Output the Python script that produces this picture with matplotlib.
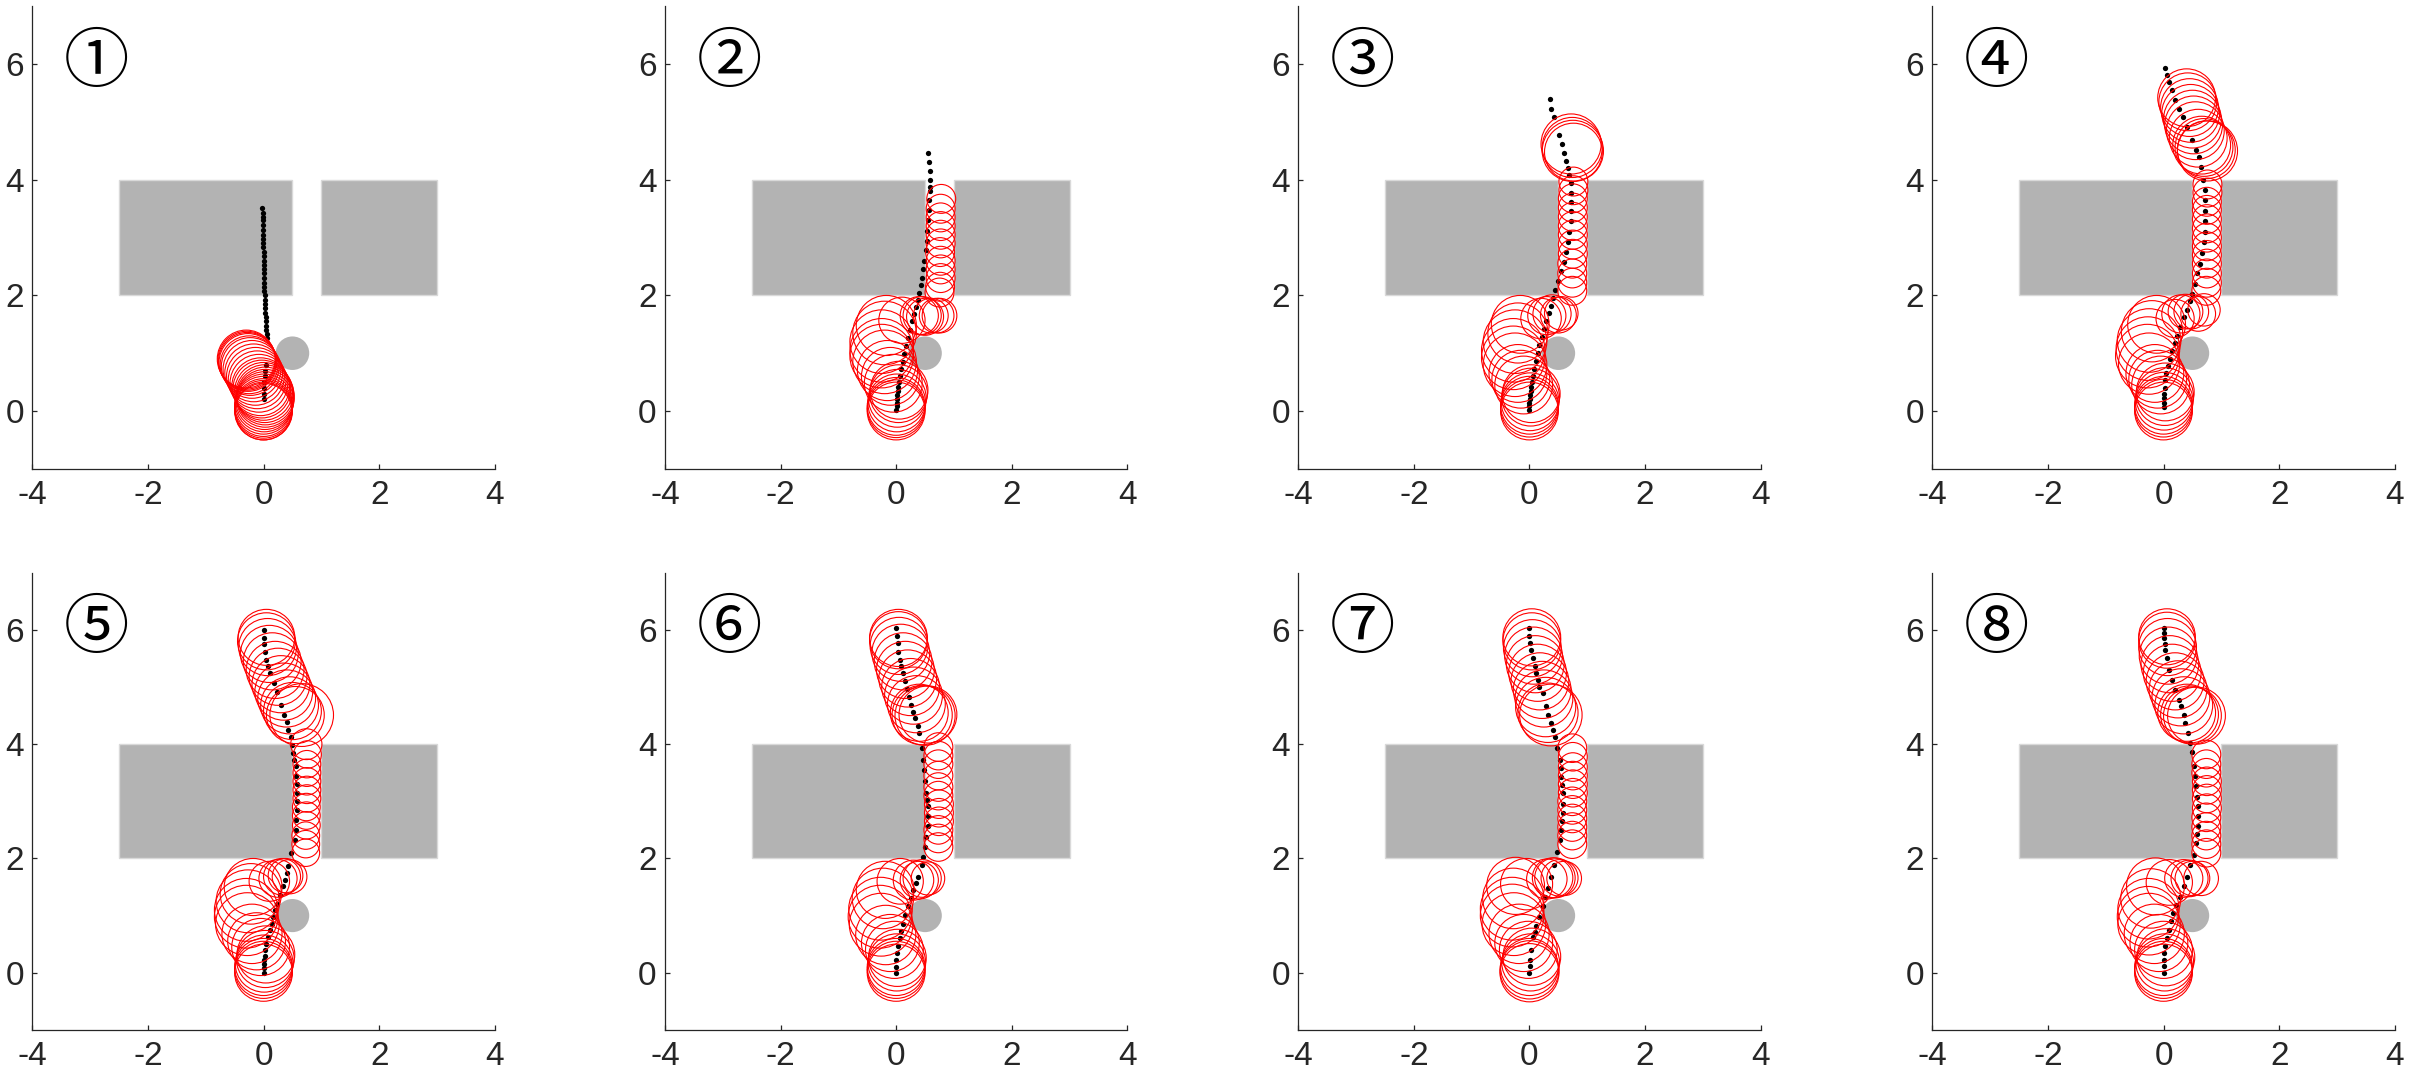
import matplotlib.pyplot as plt
from matplotlib.patches import Circle, Rectangle

plt.rcParams['font.family'] = ['Liberation Sans', 'DejaVu Sans']
plt.rcParams['axes.unicode_minus'] = False

# scene: two wall blocks with a gap, and a round pillar
walls = [(-2.5, 2.0, 3.0, 2.0), (1.0, 2.0, 2.0, 2.0)]   # x, y, w, h
pillar = (0.5, 1.0, 0.29)
panel_tags = ['①', '②', '③', '④', '⑤', '⑥', '⑦', '⑧']
x_ticks = [-4, -2, 0, 2, 4]
y_ticks = [0, 2, 4, 6]

# black dots = path, (x, y)
dots_1 = [(-0.02, 3.52), (-0.01, 3.42), (-0.01, 3.36), (-0.01, 3.30), (-0.01, 3.22), (-0.01, 3.13),
          (-0.01, 3.05), (-0.01, 2.98), (-0.01, 2.90), (-0.01, 2.83), (0.0, 2.75), (0.0, 2.68),
          (0.0, 2.60), (0.0, 2.52), (0.0, 2.45), (0.0, 2.38), (0.01, 2.30), (0.01, 2.22), (0.01, 2.15),
          (0.01, 2.08), (0.02, 2.00), (0.02, 1.92), (0.03, 1.85), (0.03, 1.78), (0.03, 1.70),
          (0.04, 1.62), (0.04, 1.55), (0.05, 1.47), (0.05, 1.40), (0.06, 1.33), (0.06, 1.26),
          (0.05, 0.80), (0.03, 0.70), (0.02, 0.60), (0.01, 0.50), (0.0, 0.40), (0.0, 0.30), (0.0, 0.20)]
dots_2 = [(0.0, 0.02), (0.01, 0.08), (0.01, 0.14), (0.02, 0.20), (0.02, 0.27), (0.03, 0.34), (0.04, 0.42),
          (0.05, 0.50), (0.07, 0.60), (0.09, 0.72), (0.11, 0.84), (0.14, 0.98), (0.17, 1.12), (0.20, 1.26),
          (0.24, 1.40), (0.28, 1.55), (0.31, 1.68), (0.34, 1.80), (0.37, 1.92), (0.40, 2.05), (0.43, 2.18),
          (0.45, 2.30), (0.47, 2.45), (0.49, 2.60), (0.51, 2.78), (0.53, 2.95), (0.54, 3.12), (0.55, 3.30),
          (0.56, 3.48), (0.57, 3.65), (0.58, 3.80), (0.59, 3.88), (0.59, 4.00), (0.58, 4.16), (0.57, 4.30),
          (0.55, 4.47)]
dots_3 = [(0.0, 0.02), (0.0, 0.08), (0.0, 0.14), (0.01, 0.20), (0.01, 0.27), (0.02, 0.34), (0.03, 0.42),
          (0.04, 0.50), (0.06, 0.60), (0.08, 0.72), (0.11, 0.86), (0.14, 1.00), (0.17, 1.14), (0.21, 1.28),
          (0.25, 1.42), (0.29, 1.56), (0.33, 1.70), (0.37, 1.82), (0.41, 1.96), (0.45, 2.10), (0.50, 2.25),
          (0.55, 2.42), (0.59, 2.58), (0.63, 2.75), (0.66, 2.92), (0.69, 3.10), (0.71, 3.28), (0.72, 3.46),
          (0.72, 3.62), (0.72, 3.78), (0.71, 3.94), (0.69, 4.08), (0.66, 4.20), (0.64, 4.33), (0.60, 4.47),
          (0.56, 4.62), (0.51, 4.77), (0.43, 5.08), (0.38, 5.23), (0.35, 5.39)]
dots_4 = [(0.0, 0.07), (0.0, 0.14), (0.01, 0.22), (0.01, 0.30), (0.02, 0.40), (0.03, 0.54), (0.05, 0.66),
          (0.08, 0.78), (0.12, 0.90), (0.15, 1.04), (0.19, 1.18), (0.23, 1.30), (0.28, 1.45), (0.35, 1.63),
          (0.40, 1.75), (0.45, 1.90), (0.49, 2.03), (0.54, 2.20), (0.58, 2.38), (0.63, 2.55), (0.66, 2.74),
          (0.70, 2.93), (0.71, 3.10), (0.72, 3.28), (0.72, 3.46), (0.72, 3.65), (0.71, 3.82), (0.69, 4.00),
          (0.65, 4.22), (0.61, 4.39), (0.57, 4.51), (0.49, 4.69), (0.40, 4.92), (0.33, 5.09), (0.26, 5.23),
          (0.20, 5.38), (0.14, 5.55), (0.09, 5.70), (0.06, 5.82), (0.03, 5.94)]
dots_5 = [(0.0, 0.0), (0.0, 0.08), (0.01, 0.15), (0.01, 0.22), (0.02, 0.30), (0.03, 0.40), (0.05, 0.51),
          (0.08, 0.63), (0.11, 0.75), (0.14, 0.86), (0.17, 0.98), (0.20, 1.10), (0.24, 1.21), (0.28, 1.36),
          (0.33, 1.51), (0.37, 1.63), (0.40, 1.74), (0.43, 1.86), (0.48, 2.09), (0.54, 2.32), (0.56, 2.50),
          (0.57, 2.67), (0.58, 2.85), (0.58, 3.00), (0.58, 3.14), (0.58, 3.30), (0.57, 3.45), (0.56, 3.61),
          (0.53, 3.73), (0.51, 3.84), (0.50, 3.99), (0.47, 4.13), (0.43, 4.25), (0.40, 4.38), (0.35, 4.51),
          (0.31, 4.69), (0.24, 4.92), (0.18, 5.07), (0.12, 5.24), (0.08, 5.36), (0.05, 5.48), (0.03, 5.62),
          (0.01, 5.75), (0.01, 5.86), (0.0, 6.00)]
dots_6 = [(0.0, 0.0), (0.0, 0.10), (0.0, 0.22), (0.01, 0.34), (0.03, 0.46), (0.06, 0.60), (0.09, 0.73),
          (0.12, 0.86), (0.16, 1.01), (0.20, 1.16), (0.25, 1.30), (0.29, 1.45), (0.34, 1.57), (0.38, 1.68),
          (0.44, 1.89), (0.47, 2.03), (0.50, 2.20), (0.52, 2.38), (0.55, 2.56), (0.55, 2.74), (0.55, 2.91),
          (0.53, 3.02), (0.52, 3.14), (0.50, 3.35), (0.48, 3.55), (0.46, 3.72), (0.44, 3.93), (0.40, 4.19),
          (0.38, 4.31), (0.33, 4.45), (0.30, 4.57), (0.26, 4.69), (0.22, 4.83), (0.19, 4.96), (0.16, 5.10),
          (0.12, 5.24), (0.09, 5.36), (0.06, 5.48), (0.04, 5.62), (0.03, 5.77), (0.01, 5.90), (0.0, 6.03)]
dots_7 = [(0.0, 0.0), (0.01, 0.11), (0.01, 0.22), (0.03, 0.40), (0.06, 0.63), (0.09, 0.72), (0.12, 0.81),
          (0.17, 0.98), (0.23, 1.16), (0.27, 1.32), (0.32, 1.48), (0.38, 1.68), (0.43, 1.89), (0.48, 2.12),
          (0.52, 2.32), (0.55, 2.50), (0.57, 2.65), (0.58, 2.79), (0.58, 2.96), (0.58, 3.14), (0.57, 3.28),
          (0.55, 3.43), (0.54, 3.58), (0.52, 3.72), (0.48, 3.93), (0.45, 4.13), (0.40, 4.25), (0.38, 4.37),
          (0.32, 4.51), (0.28, 4.66), (0.23, 4.89), (0.17, 5.00), (0.14, 5.12), (0.12, 5.24), (0.09, 5.37),
          (0.06, 5.50), (0.03, 5.65), (0.01, 5.77), (0.0, 5.90), (0.0, 6.03)]
dots_8 = [(0.0, 0.0), (0.0, 0.11), (0.0, 0.22), (0.01, 0.34), (0.03, 0.46), (0.06, 0.61), (0.09, 0.75),
          (0.13, 0.90), (0.17, 1.04), (0.22, 1.18), (0.28, 1.33), (0.35, 1.51), (0.40, 1.68), (0.46, 1.89),
          (0.52, 2.06), (0.57, 2.27), (0.58, 2.42), (0.59, 2.56), (0.59, 2.74), (0.59, 2.91), (0.58, 3.08),
          (0.57, 3.26), (0.55, 3.44), (0.52, 3.61), (0.49, 3.87), (0.46, 4.02), (0.42, 4.19), (0.38, 4.37),
          (0.35, 4.51), (0.31, 4.66), (0.26, 4.78), (0.20, 4.95), (0.14, 5.13), (0.09, 5.30), (0.06, 5.50),
          (0.03, 5.65), (0.02, 5.76), (0.01, 5.86), (0.0, 5.95), (0.0, 6.03)]

# red rings, (x, y, r)
rings_1 = [(-0.30, 0.90, 0.50), (-0.29, 0.88, 0.50), (-0.28, 0.86, 0.50), (-0.27, 0.84, 0.50),
           (-0.25, 0.80, 0.50), (-0.23, 0.77, 0.50), (-0.20, 0.72, 0.50), (-0.17, 0.66, 0.50),
           (-0.14, 0.60, 0.50), (-0.11, 0.54, 0.50), (-0.08, 0.48, 0.50), (-0.05, 0.42, 0.50),
           (-0.03, 0.38, 0.50), (0.0, 0.34, 0.50), (0.02, 0.30, 0.50), (0.03, 0.26, 0.50),
           (0.03, 0.22, 0.50), (0.02, 0.18, 0.50), (0.01, 0.14, 0.50), (0.0, 0.10, 0.50),
           (0.0, 0.06, 0.50), (0.0, 0.03, 0.50), (0.0, 0.0, 0.50), (0.0, -0.01, 0.49)]
rings_2 = [(0.0, 0.0, 0.5), (0.0, 0.04, 0.5), (0.0, 0.08, 0.5), (0.01, 0.14, 0.5), (0.02, 0.22, 0.5),
           (0.04, 0.30, 0.5), (0.05, 0.36, 0.5), (-0.05, 0.48, 0.5), (-0.10, 0.60, 0.5),
           (-0.15, 0.70, 0.52), (-0.20, 0.85, 0.55), (-0.25, 0.95, 0.55), (-0.25, 1.05, 0.55),
           (-0.25, 1.20, 0.55), (-0.20, 1.35, 0.55), (-0.17, 1.48, 0.52), (0.10, 1.57, 0.40),
           (0.40, 1.65, 0.33), (0.45, 1.65, 0.33), (0.50, 1.63, 0.32), (0.60, 1.65, 0.30),
           (0.70, 1.65, 0.30), (0.75, 1.65, 0.30), (0.75, 2.05, 0.25), (0.76, 2.15, 0.25),
           (0.77, 2.30, 0.25), (0.77, 2.45, 0.25), (0.77, 2.60, 0.25), (0.76, 2.75, 0.25),
           (0.77, 2.90, 0.25), (0.77, 3.05, 0.25), (0.77, 3.20, 0.25), (0.77, 3.35, 0.25),
           (0.77, 3.50, 0.25), (0.78, 3.67, 0.25)]
rings_3 = [(0.0, 0.0, 0.5), (0.0, 0.05, 0.5), (0.0, 0.10, 0.5), (0.01, 0.16, 0.5), (0.02, 0.24, 0.5),
           (0.03, 0.30, 0.5), (-0.10, 0.45, 0.5), (-0.15, 0.55, 0.5), (-0.20, 0.65, 0.5),
           (-0.25, 0.80, 0.55), (-0.28, 0.92, 0.55), (-0.28, 1.05, 0.55), (-0.25, 1.20, 0.55),
           (-0.20, 1.35, 0.52), (-0.16, 1.50, 0.50), (0.20, 1.60, 0.35), (0.30, 1.65, 0.33),
           (0.39, 1.68, 0.33), (0.50, 1.66, 0.31), (0.55, 1.69, 0.29), (0.74, 2.08, 0.25),
           (0.74, 2.22, 0.25), (0.74, 2.38, 0.25), (0.74, 2.55, 0.25), (0.75, 2.72, 0.25),
           (0.75, 2.88, 0.25), (0.75, 3.05, 0.25), (0.75, 3.20, 0.25), (0.75, 3.36, 0.25),
           (0.75, 3.52, 0.25), (0.75, 3.68, 0.25), (0.76, 3.82, 0.25), (0.76, 3.97, 0.25),
           (0.72, 4.62, 0.52), (0.74, 4.56, 0.52), (0.75, 4.50, 0.53), (0.76, 4.48, 0.50)]
rings_4 = [(0.0, 0.0, 0.5), (0.0, 0.05, 0.5), (0.0, 0.10, 0.5), (0.01, 0.17, 0.5), (0.02, 0.25, 0.5),
           (0.03, 0.33, 0.5), (-0.05, 0.45, 0.5), (-0.10, 0.55, 0.5), (-0.15, 0.65, 0.5),
           (-0.25, 0.82, 0.53), (-0.28, 0.95, 0.55), (-0.27, 1.08, 0.55), (-0.25, 1.22, 0.55),
           (-0.20, 1.38, 0.53), (-0.12, 1.50, 0.50), (0.20, 1.60, 0.33), (0.30, 1.68, 0.33),
           (0.38, 1.72, 0.30), (0.48, 1.72, 0.30), (0.60, 1.68, 0.30), (0.70, 1.75, 0.28),
           (0.74, 2.08, 0.25), (0.75, 2.22, 0.25), (0.75, 2.38, 0.25), (0.75, 2.55, 0.25),
           (0.75, 2.70, 0.25), (0.75, 2.85, 0.25), (0.75, 3.00, 0.25), (0.75, 3.16, 0.25),
           (0.75, 3.32, 0.25), (0.75, 3.48, 0.25), (0.75, 3.62, 0.25), (0.76, 3.78, 0.25),
           (0.76, 3.92, 0.25), (0.76, 4.50, 0.52), (0.74, 4.52, 0.50), (0.70, 4.56, 0.50),
           (0.66, 4.60, 0.50), (0.60, 4.72, 0.50), (0.55, 4.85, 0.50), (0.52, 4.95, 0.50),
           (0.50, 5.05, 0.50), (0.47, 5.15, 0.50), (0.45, 5.25, 0.50), (0.42, 5.35, 0.50),
           (0.40, 5.42, 0.50)]
rings_5 = [(0.0, 0.0, 0.5), (0.0, 0.05, 0.5), (0.0, 0.10, 0.5), (0.01, 0.16, 0.5), (0.03, 0.24, 0.5),
           (0.04, 0.32, 0.5), (-0.05, 0.45, 0.5), (-0.12, 0.55, 0.5), (-0.20, 0.68, 0.52),
           (-0.28, 0.85, 0.55), (-0.30, 0.98, 0.55), (-0.30, 1.10, 0.55), (-0.27, 1.25, 0.55),
           (-0.22, 1.38, 0.53), (-0.18, 1.50, 0.50), (0.10, 1.60, 0.35), (0.25, 1.65, 0.33),
           (0.32, 1.68, 0.32), (0.38, 1.70, 0.30), (0.45, 1.68, 0.30), (0.73, 2.10, 0.24),
           (0.73, 2.25, 0.24), (0.73, 2.40, 0.24), (0.74, 2.58, 0.24), (0.74, 2.75, 0.24),
           (0.74, 2.90, 0.24), (0.75, 3.05, 0.24), (0.75, 3.20, 0.24), (0.75, 3.35, 0.24),
           (0.75, 3.50, 0.24), (0.75, 3.65, 0.24), (0.76, 3.82, 0.24), (0.74, 4.00, 0.27),
           (0.66, 4.51, 0.55), (0.55, 4.51, 0.50), (0.50, 4.58, 0.50), (0.45, 4.68, 0.50),
           (0.40, 4.80, 0.50), (0.35, 4.92, 0.50), (0.30, 5.05, 0.50), (0.25, 5.18, 0.50),
           (0.20, 5.30, 0.50), (0.15, 5.45, 0.50), (0.10, 5.58, 0.50), (0.07, 5.70, 0.50),
           (0.05, 5.80, 0.50), (0.05, 5.87, 0.49)]
rings_6 = [(0.0, 0.0, 0.5), (0.0, 0.05, 0.5), (0.0, 0.10, 0.5), (0.01, 0.18, 0.5), (0.02, 0.26, 0.5),
           (-0.03, 0.40, 0.5), (-0.10, 0.52, 0.5), (-0.18, 0.66, 0.52), (-0.26, 0.84, 0.55),
           (-0.28, 0.98, 0.55), (-0.27, 1.12, 0.55), (-0.23, 1.30, 0.53), (-0.19, 1.45, 0.50),
           (0.07, 1.60, 0.40), (0.30, 1.62, 0.35), (0.40, 1.62, 0.33), (0.45, 1.65, 0.33),
           (0.55, 1.65, 0.29), (0.73, 2.20, 0.25), (0.73, 2.35, 0.25), (0.73, 2.50, 0.25),
           (0.74, 2.65, 0.25), (0.74, 2.80, 0.25), (0.74, 2.95, 0.25), (0.73, 3.10, 0.25),
           (0.73, 3.25, 0.25), (0.73, 3.45, 0.25), (0.73, 3.65, 0.25), (0.73, 3.80, 0.25),
           (0.73, 3.95, 0.25), (0.55, 4.52, 0.50), (0.50, 4.50, 0.52), (0.45, 4.51, 0.52),
           (0.40, 4.55, 0.50), (0.35, 4.70, 0.50), (0.30, 4.85, 0.50), (0.25, 5.00, 0.50),
           (0.20, 5.15, 0.50), (0.16, 5.30, 0.50), (0.12, 5.45, 0.50), (0.08, 5.60, 0.50),
           (0.05, 5.72, 0.50), (0.04, 5.82, 0.50), (0.04, 5.86, 0.50)]
rings_7 = [(0.0, 0.0, 0.51), (0.0, 0.05, 0.51), (0.0, 0.10, 0.50), (0.02, 0.18, 0.50), (0.04, 0.28, 0.50),
           (-0.02, 0.40, 0.50), (-0.10, 0.52, 0.50), (-0.18, 0.68, 0.52), (-0.27, 0.85, 0.55),
           (-0.30, 1.00, 0.55), (-0.30, 1.12, 0.55), (-0.28, 1.30, 0.53), (-0.24, 1.52, 0.50),
           (-0.05, 1.55, 0.45), (0.30, 1.64, 0.35), (0.40, 1.66, 0.35), (0.44, 1.66, 0.35),
           (0.52, 1.66, 0.32), (0.60, 1.65, 0.30), (0.74, 2.25, 0.25), (0.74, 2.40, 0.25),
           (0.74, 2.55, 0.25), (0.74, 2.70, 0.25), (0.74, 2.85, 0.25), (0.74, 3.00, 0.25),
           (0.75, 3.15, 0.25), (0.75, 3.30, 0.25), (0.75, 3.45, 0.25), (0.75, 3.60, 0.25),
           (0.75, 3.78, 0.25), (0.74, 3.93, 0.25), (0.37, 4.51, 0.54), (0.32, 4.55, 0.52),
           (0.28, 4.65, 0.52), (0.25, 4.80, 0.50), (0.22, 4.95, 0.50), (0.18, 5.10, 0.50),
           (0.14, 5.25, 0.50), (0.10, 5.40, 0.50), (0.07, 5.55, 0.50), (0.05, 5.68, 0.50),
           (0.04, 5.80, 0.50), (0.04, 5.87, 0.50)]
rings_8 = [(0.0, 0.0, 0.5), (0.0, 0.05, 0.5), (0.0, 0.10, 0.5), (0.02, 0.18, 0.5), (0.04, 0.27, 0.5),
           (0.0, 0.40, 0.5), (-0.08, 0.52, 0.5), (-0.16, 0.68, 0.52), (-0.25, 0.85, 0.54),
           (-0.27, 0.98, 0.53), (-0.26, 1.12, 0.53), (-0.22, 1.30, 0.52), (-0.14, 1.51, 0.50),
           (0.10, 1.58, 0.40), (0.35, 1.65, 0.33), (0.45, 1.65, 0.32), (0.50, 1.65, 0.30),
           (0.65, 1.65, 0.30), (0.74, 2.10, 0.25), (0.74, 2.25, 0.25), (0.74, 2.40, 0.25),
           (0.74, 2.55, 0.25), (0.74, 2.72, 0.25), (0.75, 2.88, 0.25), (0.75, 3.05, 0.25),
           (0.75, 3.20, 0.25), (0.75, 3.35, 0.25), (0.74, 3.50, 0.25), (0.74, 3.65, 0.25),
           (0.74, 3.82, 0.25), (0.57, 4.50, 0.50), (0.50, 4.50, 0.50), (0.45, 4.52, 0.50),
           (0.40, 4.55, 0.50), (0.35, 4.68, 0.50), (0.30, 4.82, 0.50), (0.25, 4.96, 0.50),
           (0.20, 5.10, 0.50), (0.15, 5.25, 0.50), (0.11, 5.40, 0.50), (0.08, 5.55, 0.50),
           (0.07, 5.70, 0.50), (0.06, 5.82, 0.49), (0.06, 5.88, 0.49)]

all_dots = [dots_1, dots_2, dots_3, dots_4, dots_5, dots_6, dots_7, dots_8]
all_rings = [rings_1, rings_2, rings_3, rings_4, rings_5, rings_6, rings_7, rings_8]

# axes boxes in figure fractions
col_left = [0.0134, 0.2760, 0.5389, 0.8021]
row_bottom = [0.5699, 0.0552]
row_height = [0.4242, 0.4193]
ax_width = 0.1920

fig = plt.figure(figsize=(24.09, 10.90), dpi=100)

for k in range(8):
    r, c = divmod(k, 4)
    ax = fig.add_axes([col_left[c], row_bottom[r], ax_width, row_height[r]])

    for (wx, wy, ww, wh) in walls:
        ax.add_patch(Rectangle((wx, wy), ww, wh, facecolor='#b3b3b3', edgecolor='#d9d9d9', lw=1.0, zorder=1))
    ax.add_patch(Circle(pillar[:2], pillar[2], facecolor='#b3b3b3', edgecolor='none', zorder=1))

    xs = [p[0] for p in all_dots[k]]
    ys = [p[1] for p in all_dots[k]]
    ax.plot(xs, ys, 'o', ms=3.8, color='k', mec='none', zorder=2)

    for (cx, cy, cr) in all_rings[k]:
        ax.add_patch(Circle((cx, cy), cr, fill=False, edgecolor='#ff0000', lw=0.8, zorder=3))

    ax.text(-2.89, 6.0, panel_tags[k], ha='center', va='center', fontsize=47,
            family=['Noto Sans CJK SC', 'DejaVu Sans'])

    ax.set_xlim(-4, 4)
    ax.set_ylim(-1, 7)
    ax.set_xticks(x_ticks)
    ax.set_yticks(y_ticks)
    ax.spines['top'].set_visible(False)
    ax.spines['right'].set_visible(False)
    for s in ('left', 'bottom'):
        ax.spines[s].set_color('#262626')
        ax.spines[s].set_linewidth(0.9)
    ax.tick_params(direction='in', length=3.6, width=0.9, colors='#262626', labelsize=24)
    ax.tick_params(axis='x', pad=8)
    ax.tick_params(axis='y', pad=6)

fig.savefig('out.png', dpi=100)
